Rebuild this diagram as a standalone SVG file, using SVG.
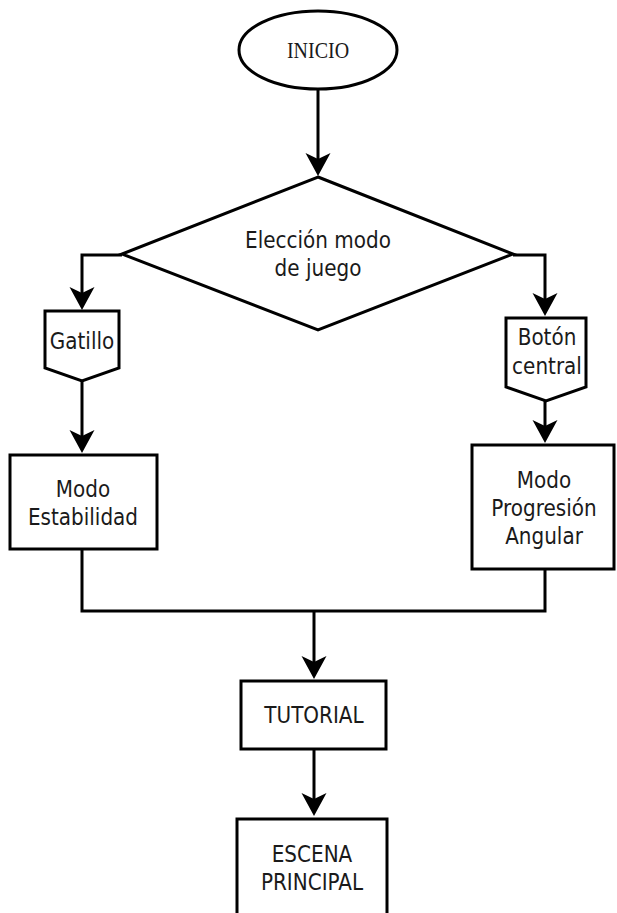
<svg xmlns="http://www.w3.org/2000/svg" width="617" height="913" viewBox="0 0 617 913">
<style>
.shape{fill:#fff;stroke:#000;stroke-width:3}
.t{font-family:"DejaVu Sans","Liberation Sans",sans-serif;font-size:20px;fill:#1a1a1a;text-anchor:middle}
.ts{font-family:"Liberation Serif","DejaVu Serif",serif;font-size:20px;fill:#1a1a1a;text-anchor:middle}
.c{fill:none;stroke:#000;stroke-width:3}
</style>
<defs>
<marker id="arr" markerUnits="userSpaceOnUse" markerWidth="30" markerHeight="30" viewBox="-25 -15 30 30" refX="-17" refY="0" orient="auto">
<path d="M0,0 L-23,-12.5 L-17,0 L-23,12.5 Z" fill="#000"/>
</marker>
</defs>
<rect width="617" height="913" fill="#fff"/>
<g id="connectors">
<path class="c" d="M318,89 V159" marker-end="url(#arr)"/>
<path class="c" d="M122,255 H82 V293" marker-end="url(#arr)"/>
<path class="c" d="M82,381 V436" marker-end="url(#arr)"/>
<path class="c" d="M513,255 H545 V299" marker-end="url(#arr)"/>
<path class="c" d="M545,401 V426" marker-end="url(#arr)"/>
<path class="c" d="M82,549 V611 H545 V569"/>
<path class="c" d="M314,611 V662" marker-end="url(#arr)"/>
<path class="c" d="M314,749 V799" marker-end="url(#arr)"/>
</g>
<g id="inicio">
<ellipse class="shape" cx="318" cy="50" rx="79" ry="39"/>
<text class="ts" transform="translate(318,58) scale(1,1.15)">INICIO</text>
</g>
<g id="eleccion">
<polygon class="shape" points="318,177 513,254 318,330 122,254"/>
<text class="t" transform="translate(318,248) scale(1,1.12)">Elección modo</text>
<text class="t" transform="translate(318,276) scale(1,1.12)">de juego</text>
</g>
<g id="gatillo">
<polygon class="shape" points="45,311 119,311 119,368 82,381 45,368"/>
<text class="t" transform="translate(82,349) scale(1,1.12)">Gatillo</text>
</g>
<g id="boton">
<polygon class="shape" points="506,318 586,318 586,387 546,401 506,387"/>
<text class="t" transform="translate(547,345) scale(1,1.12)">Botón</text>
<text class="t" transform="translate(547,374) scale(1,1.12)">central</text>
</g>
<g id="estabilidad">
<rect class="shape" x="10" y="455" width="147" height="94"/>
<text class="t" transform="translate(83,497) scale(1,1.12)">Modo</text>
<text class="t" transform="translate(83,525) scale(1,1.12)">Estabilidad</text>
</g>
<g id="progresion">
<rect class="shape" x="472" y="445" width="142" height="124"/>
<text class="t" transform="translate(544,488) scale(1,1.12)">Modo</text>
<text class="t" transform="translate(544,516) scale(1,1.12)">Progresión</text>
<text class="t" transform="translate(544,544) scale(1,1.12)">Angular</text>
</g>
<g id="tutorial">
<rect class="shape" x="241" y="681" width="145" height="68"/>
<text class="t" transform="translate(314,723) scale(1,1.12)">TUTORIAL</text>
</g>
<g id="escena">
<rect class="shape" x="237" y="819" width="150" height="110"/>
<text class="t" transform="translate(312,862) scale(1,1.12)">ESCENA</text>
<text class="t" transform="translate(312,890) scale(1,1.12)">PRINCIPAL</text>
</g>
</svg>
